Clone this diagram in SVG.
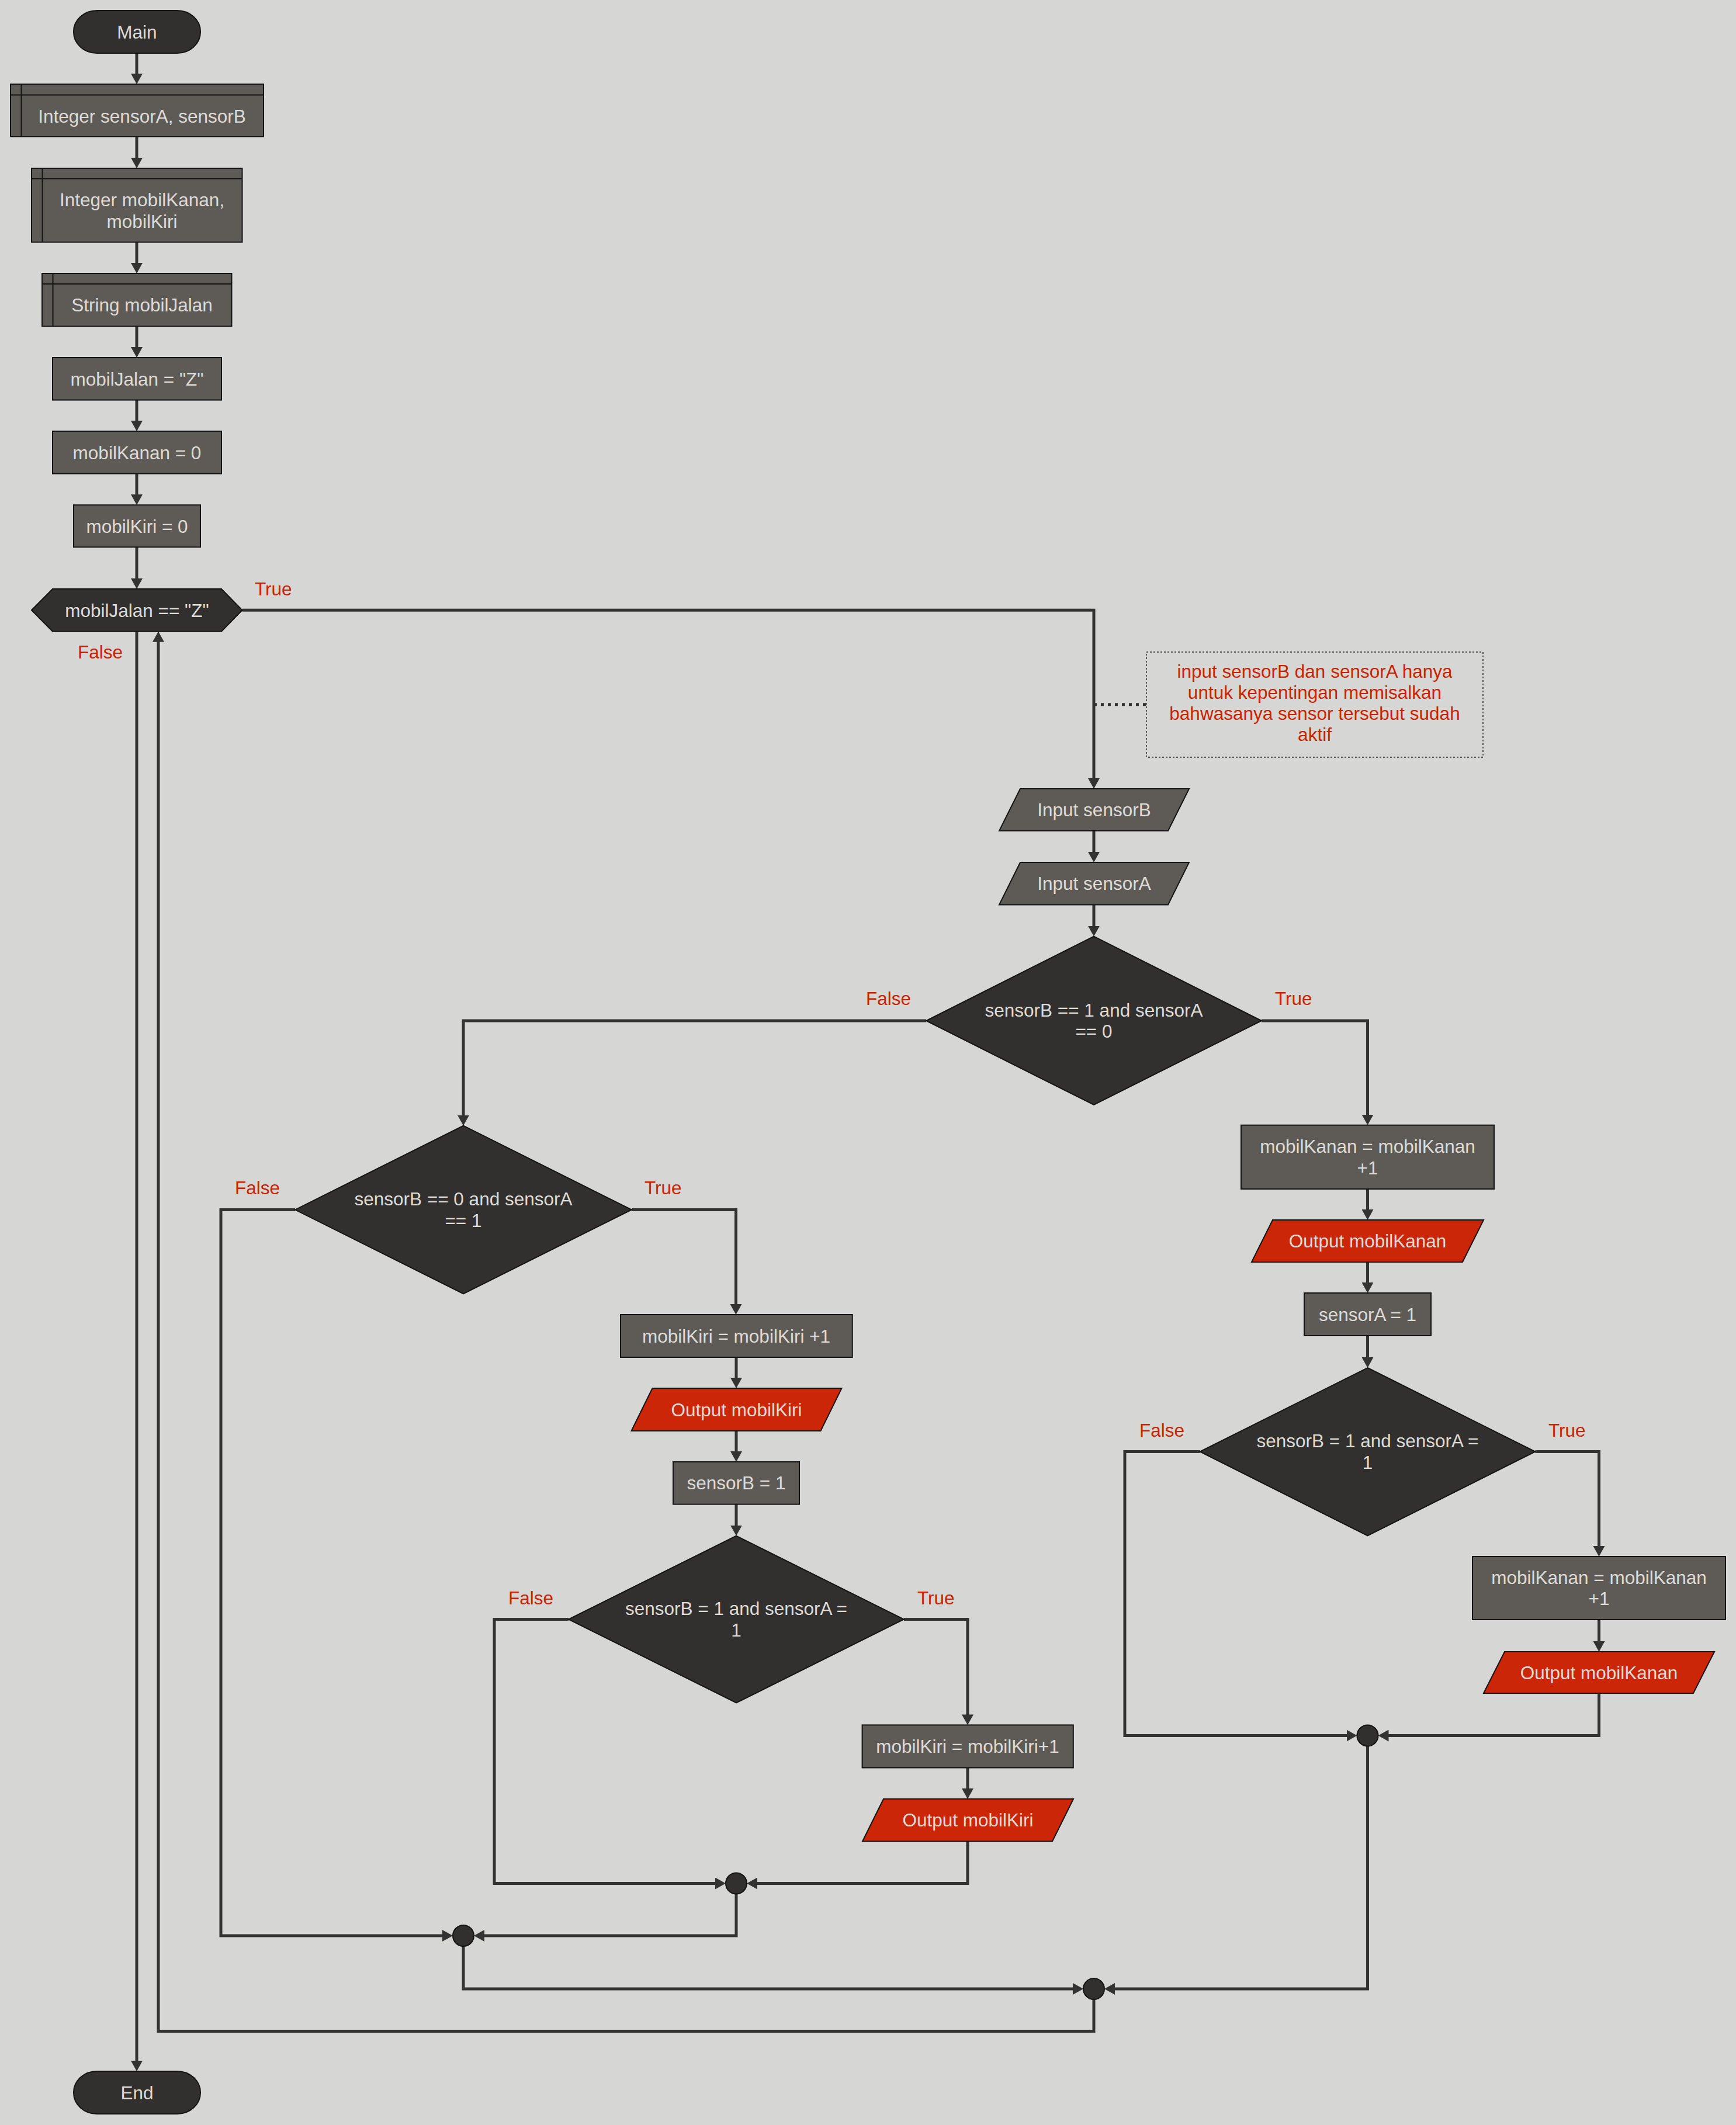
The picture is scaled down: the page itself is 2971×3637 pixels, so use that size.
<svg xmlns="http://www.w3.org/2000/svg" width="2971" height="3637" viewBox="0 0 2971 3637">
  <style>
    .bg { fill: #d6d6d4; }
    .term, .dec, .join { fill: #32302e; stroke: #141414; stroke-width: 2; }
    .proc, .decl, .io { fill: #5e5b56; stroke: #141414; stroke-width: 2; }
    .out { fill: #cc2608; stroke: #141414; stroke-width: 2; }
    .inner { fill: none; stroke: #141414; stroke-width: 2; }
    .t { font-family: "Liberation Sans", Arial, sans-serif; font-size: 31.5px; fill: #dedbd6; text-anchor: middle; }
    .lbl { font-family: "Liberation Sans", Arial, sans-serif; font-size: 31.5px; fill: #cc2200; }
    .note { font-family: "Liberation Sans", Arial, sans-serif; font-size: 31.5px; fill: #cc2200; text-anchor: middle; }
    .edge { fill: none; stroke: #333333; stroke-width: 5; marker-end: url(#arrow); }
    .link { fill: none; stroke: #333333; stroke-width: 5; stroke-dasharray: 5 7; }
    .notebox { fill: none; stroke: #555555; stroke-width: 2; stroke-dasharray: 3 3; }
  </style>
  <defs>
    <marker id="arrow" viewBox="0 0 18 20" refX="10" refY="10" markerWidth="18" markerHeight="20" markerUnits="userSpaceOnUse" orient="auto">
      <path d="M0,0 L18,10 L0,20 z" fill="#333333"/>
    </marker>
  </defs>

  <rect class="bg" x="0" y="0" width="2971" height="3637"/>

  <!-- connectors -->
  <g id="connectors">
    <path class="edge" d="M234,91 V136"/>
    <path class="edge" d="M234,234 V280"/>
    <path class="edge" d="M234,414.5 V460"/>
    <path class="edge" d="M234,558.5 V604"/>
    <path class="edge" d="M234,684.6 V730"/>
    <path class="edge" d="M234,810.7 V856.3"/>
    <path class="edge" d="M234,936.4 V1000"/>
    <path class="edge" d="M414.5,1044.3 H1872 V1342"/>
    <path class="edge" d="M234,1080.7 V3537"/>
    <path class="link" d="M1872,1205.7 H1962"/>
    <path class="edge" d="M1872,1422 V1468"/>
    <path class="edge" d="M1872,1548.6 V1594.7"/>
    <path class="edge" d="M1585,1747 H793 V1918.7"/>
    <path class="edge" d="M2159,1747 H2340.5 V1917.7"/>
    <path class="edge" d="M2340.5,2035 V2080"/>
    <path class="edge" d="M2340.5,2160 V2205"/>
    <path class="edge" d="M2340.5,2286 V2333"/>
    <path class="edge" d="M2627.5,2484.5 H2736.5 V2656"/>
    <path class="edge" d="M2736.5,2772 V2819"/>
    <path class="edge" d="M2736.5,2898 V2970.5 H2366.5"/>
    <path class="edge" d="M2053.5,2484.5 H1925 V2970.5 H2314.5"/>
    <path class="edge" d="M2340.5,2988.5 V3404 H1898"/>
    <path class="edge" d="M505,2070.5 H378 V3313 H767"/>
    <path class="edge" d="M1081,2070.5 H1259.5 V2242"/>
    <path class="edge" d="M1260,2323 V2368"/>
    <path class="edge" d="M1260,2449 V2494"/>
    <path class="edge" d="M1260,2575 V2620.6"/>
    <path class="edge" d="M1547,2771.5 H1656 V2944.4"/>
    <path class="edge" d="M1656,3025.5 V3071"/>
    <path class="edge" d="M1656,3151.5 V3223.5 H1286"/>
    <path class="edge" d="M973,2771.5 H846 V3223.5 H1234"/>
    <path class="edge" d="M1260,3241.5 V3313 H819"/>
    <path class="edge" d="M793,3331 V3404 H1846"/>
    <path class="edge" d="M1872,3422 V3476.5 H271 V1088.7"/>
  </g>

  <!-- branch labels -->
  <g id="labels">
    <text class="lbl" x="436" y="1018.5">True</text>
    <text class="lbl" x="133" y="1126.5">False</text>
    <text class="lbl" x="1482" y="1720">False</text>
    <text class="lbl" x="2182" y="1720">True</text>
    <text class="lbl" x="402" y="2044">False</text>
    <text class="lbl" x="1103" y="2044">True</text>
    <text class="lbl" x="870" y="2745.5">False</text>
    <text class="lbl" x="1570" y="2745.5">True</text>
    <text class="lbl" x="1950" y="2459">False</text>
    <text class="lbl" x="2650" y="2459">True</text>
  </g>

  <g id="n-main">
    <rect class="term" x="126" y="18" width="217" height="73" rx="40" ry="36"/>
    <text class="t" x="234.5" y="65.5">Main</text>
  </g>

  <g id="n-decl-sensor">
    <rect class="decl" x="18" y="144" width="433" height="90"/>
    <path class="inner" d="M36.5,144 V234 M18,162.5 H451"/>
    <text class="t" x="243" y="209.5">Integer sensorA, sensorB</text>
  </g>

  <g id="n-decl-mobil">
    <rect class="decl" x="54" y="288" width="360.5" height="126.5"/>
    <path class="inner" d="M72.5,288 V414.5 M54,306 H414.5"/>
    <text class="t" x="243" y="353">Integer mobilKanan,</text>
    <text class="t" x="243" y="389.5">mobilKiri</text>
  </g>

  <g id="n-decl-jalan">
    <rect class="decl" x="72" y="468" width="324.5" height="90.5"/>
    <path class="inner" d="M90.5,468 V558.5 M72,486 H396.5"/>
    <text class="t" x="243" y="533">String mobilJalan</text>
  </g>

  <g id="n-set-jalan">
    <rect class="proc" x="90" y="612" width="289" height="72.6"/>
    <text class="t" x="234.5" y="659.5">mobilJalan = "Z"</text>
  </g>

  <g id="n-set-kanan">
    <rect class="proc" x="90" y="738" width="289" height="72.7"/>
    <text class="t" x="234.5" y="785.5">mobilKanan = 0</text>
  </g>

  <g id="n-set-kiri">
    <rect class="proc" x="126" y="864.3" width="217" height="72.1"/>
    <text class="t" x="234.5" y="911.5">mobilKiri = 0</text>
  </g>

  <g id="n-loop">
    <polygon class="dec" points="54,1044.3 90,1008 379,1008 414.5,1044.3 379,1080.7 90,1080.7"/>
    <text class="t" x="234.5" y="1055.5">mobilJalan == "Z"</text>
  </g>

  <g id="n-note">
    <rect class="notebox" x="1962" y="1116" width="576" height="180"/>
    <text class="note" x="2250" y="1160">input sensorB dan sensorA hanya</text>
    <text class="note" x="2250" y="1196">untuk kepentingan memisalkan</text>
    <text class="note" x="2250" y="1232">bahwasanya sensor tersebut sudah</text>
    <text class="note" x="2250" y="1268">aktif</text>
  </g>

  <g id="n-input-b">
    <polygon class="io" points="1746,1350 2035,1350 1999,1422 1710,1422"/>
    <text class="t" x="1872.5" y="1397">Input sensorB</text>
  </g>

  <g id="n-input-a">
    <polygon class="io" points="1746,1476 2035,1476 1999,1548.6 1710,1548.6"/>
    <text class="t" x="1872.5" y="1523">Input sensorA</text>
  </g>

  <g id="n-cond-1">
    <polygon class="dec" points="1872,1602.7 2159,1747 1872,1891 1585,1747"/>
    <text class="t" x="1872" y="1739.5">sensorB == 1 and sensorA</text>
    <text class="t" x="1872" y="1776">== 0</text>
  </g>

  <g id="n-kanan-1">
    <rect class="proc" x="2124" y="1925.7" width="433" height="109.3"/>
    <text class="t" x="2340.5" y="1973">mobilKanan = mobilKanan</text>
    <text class="t" x="2340.5" y="2009.5">+1</text>
  </g>

  <g id="n-out-kanan-1">
    <polygon class="out" points="2178,2088 2539,2088 2503,2160 2142,2160"/>
    <text class="t" x="2340.5" y="2135">Output mobilKanan</text>
  </g>

  <g id="n-set-sensor-a">
    <rect class="proc" x="2232" y="2213" width="217" height="73"/>
    <text class="t" x="2340.5" y="2260.5">sensorA = 1</text>
  </g>

  <g id="n-cond-4">
    <polygon class="dec" points="2340.5,2341 2627.5,2484.5 2340.5,2628.5 2053.5,2484.5"/>
    <text class="t" x="2340.5" y="2477">sensorB = 1 and sensorA =</text>
    <text class="t" x="2340.5" y="2513.5">1</text>
  </g>

  <g id="n-kanan-2">
    <rect class="proc" x="2520" y="2664" width="433" height="108"/>
    <text class="t" x="2736.5" y="2710.5">mobilKanan = mobilKanan</text>
    <text class="t" x="2736.5" y="2747">+1</text>
  </g>

  <g id="n-out-kanan-2">
    <polygon class="out" points="2575,2827 2934,2827 2898,2898 2539,2898"/>
    <text class="t" x="2736.5" y="2873.5">Output mobilKanan</text>
  </g>

  <g id="n-join-4">
    <circle class="join" cx="2340.5" cy="2970.5" r="18"/>
  </g>

  <g id="n-cond-2">
    <polygon class="dec" points="793,1926.7 1081,2070.5 793,2214.3 505,2070.5"/>
    <text class="t" x="793" y="2063">sensorB == 0 and sensorA</text>
    <text class="t" x="793" y="2099.5">== 1</text>
  </g>

  <g id="n-kiri-1">
    <rect class="proc" x="1062" y="2250" width="396.7" height="73"/>
    <text class="t" x="1260" y="2297.5">mobilKiri = mobilKiri +1</text>
  </g>

  <g id="n-out-kiri-1">
    <polygon class="out" points="1116.5,2376 1440.5,2376 1404.5,2449 1080.5,2449"/>
    <text class="t" x="1260.5" y="2423.5">Output mobilKiri</text>
  </g>

  <g id="n-set-sensor-b">
    <rect class="proc" x="1152" y="2502" width="216" height="72.6"/>
    <text class="t" x="1260" y="2549">sensorB = 1</text>
  </g>

  <g id="n-cond-3">
    <polygon class="dec" points="1260,2628.6 1547,2771.5 1260,2914.5 973,2771.5"/>
    <text class="t" x="1260" y="2764">sensorB = 1 and sensorA =</text>
    <text class="t" x="1260" y="2800.5">1</text>
  </g>

  <g id="n-kiri-2">
    <rect class="proc" x="1475.6" y="2952.4" width="361.2" height="73.1"/>
    <text class="t" x="1656" y="3000">mobilKiri = mobilKiri+1</text>
  </g>

  <g id="n-out-kiri-2">
    <polygon class="out" points="1512,3079 1837,3079 1801,3151.5 1476,3151.5"/>
    <text class="t" x="1656.5" y="3126">Output mobilKiri</text>
  </g>

  <g id="n-join-3">
    <circle class="join" cx="1260" cy="3223.5" r="18"/>
  </g>

  <g id="n-join-2">
    <circle class="join" cx="793" cy="3313" r="18"/>
  </g>

  <g id="n-join-1">
    <circle class="join" cx="1872" cy="3404" r="18"/>
  </g>

  <g id="n-end">
    <rect class="term" x="126" y="3545" width="217" height="73" rx="40" ry="36"/>
    <text class="t" x="234.5" y="3592.5">End</text>
  </g>
</svg>
